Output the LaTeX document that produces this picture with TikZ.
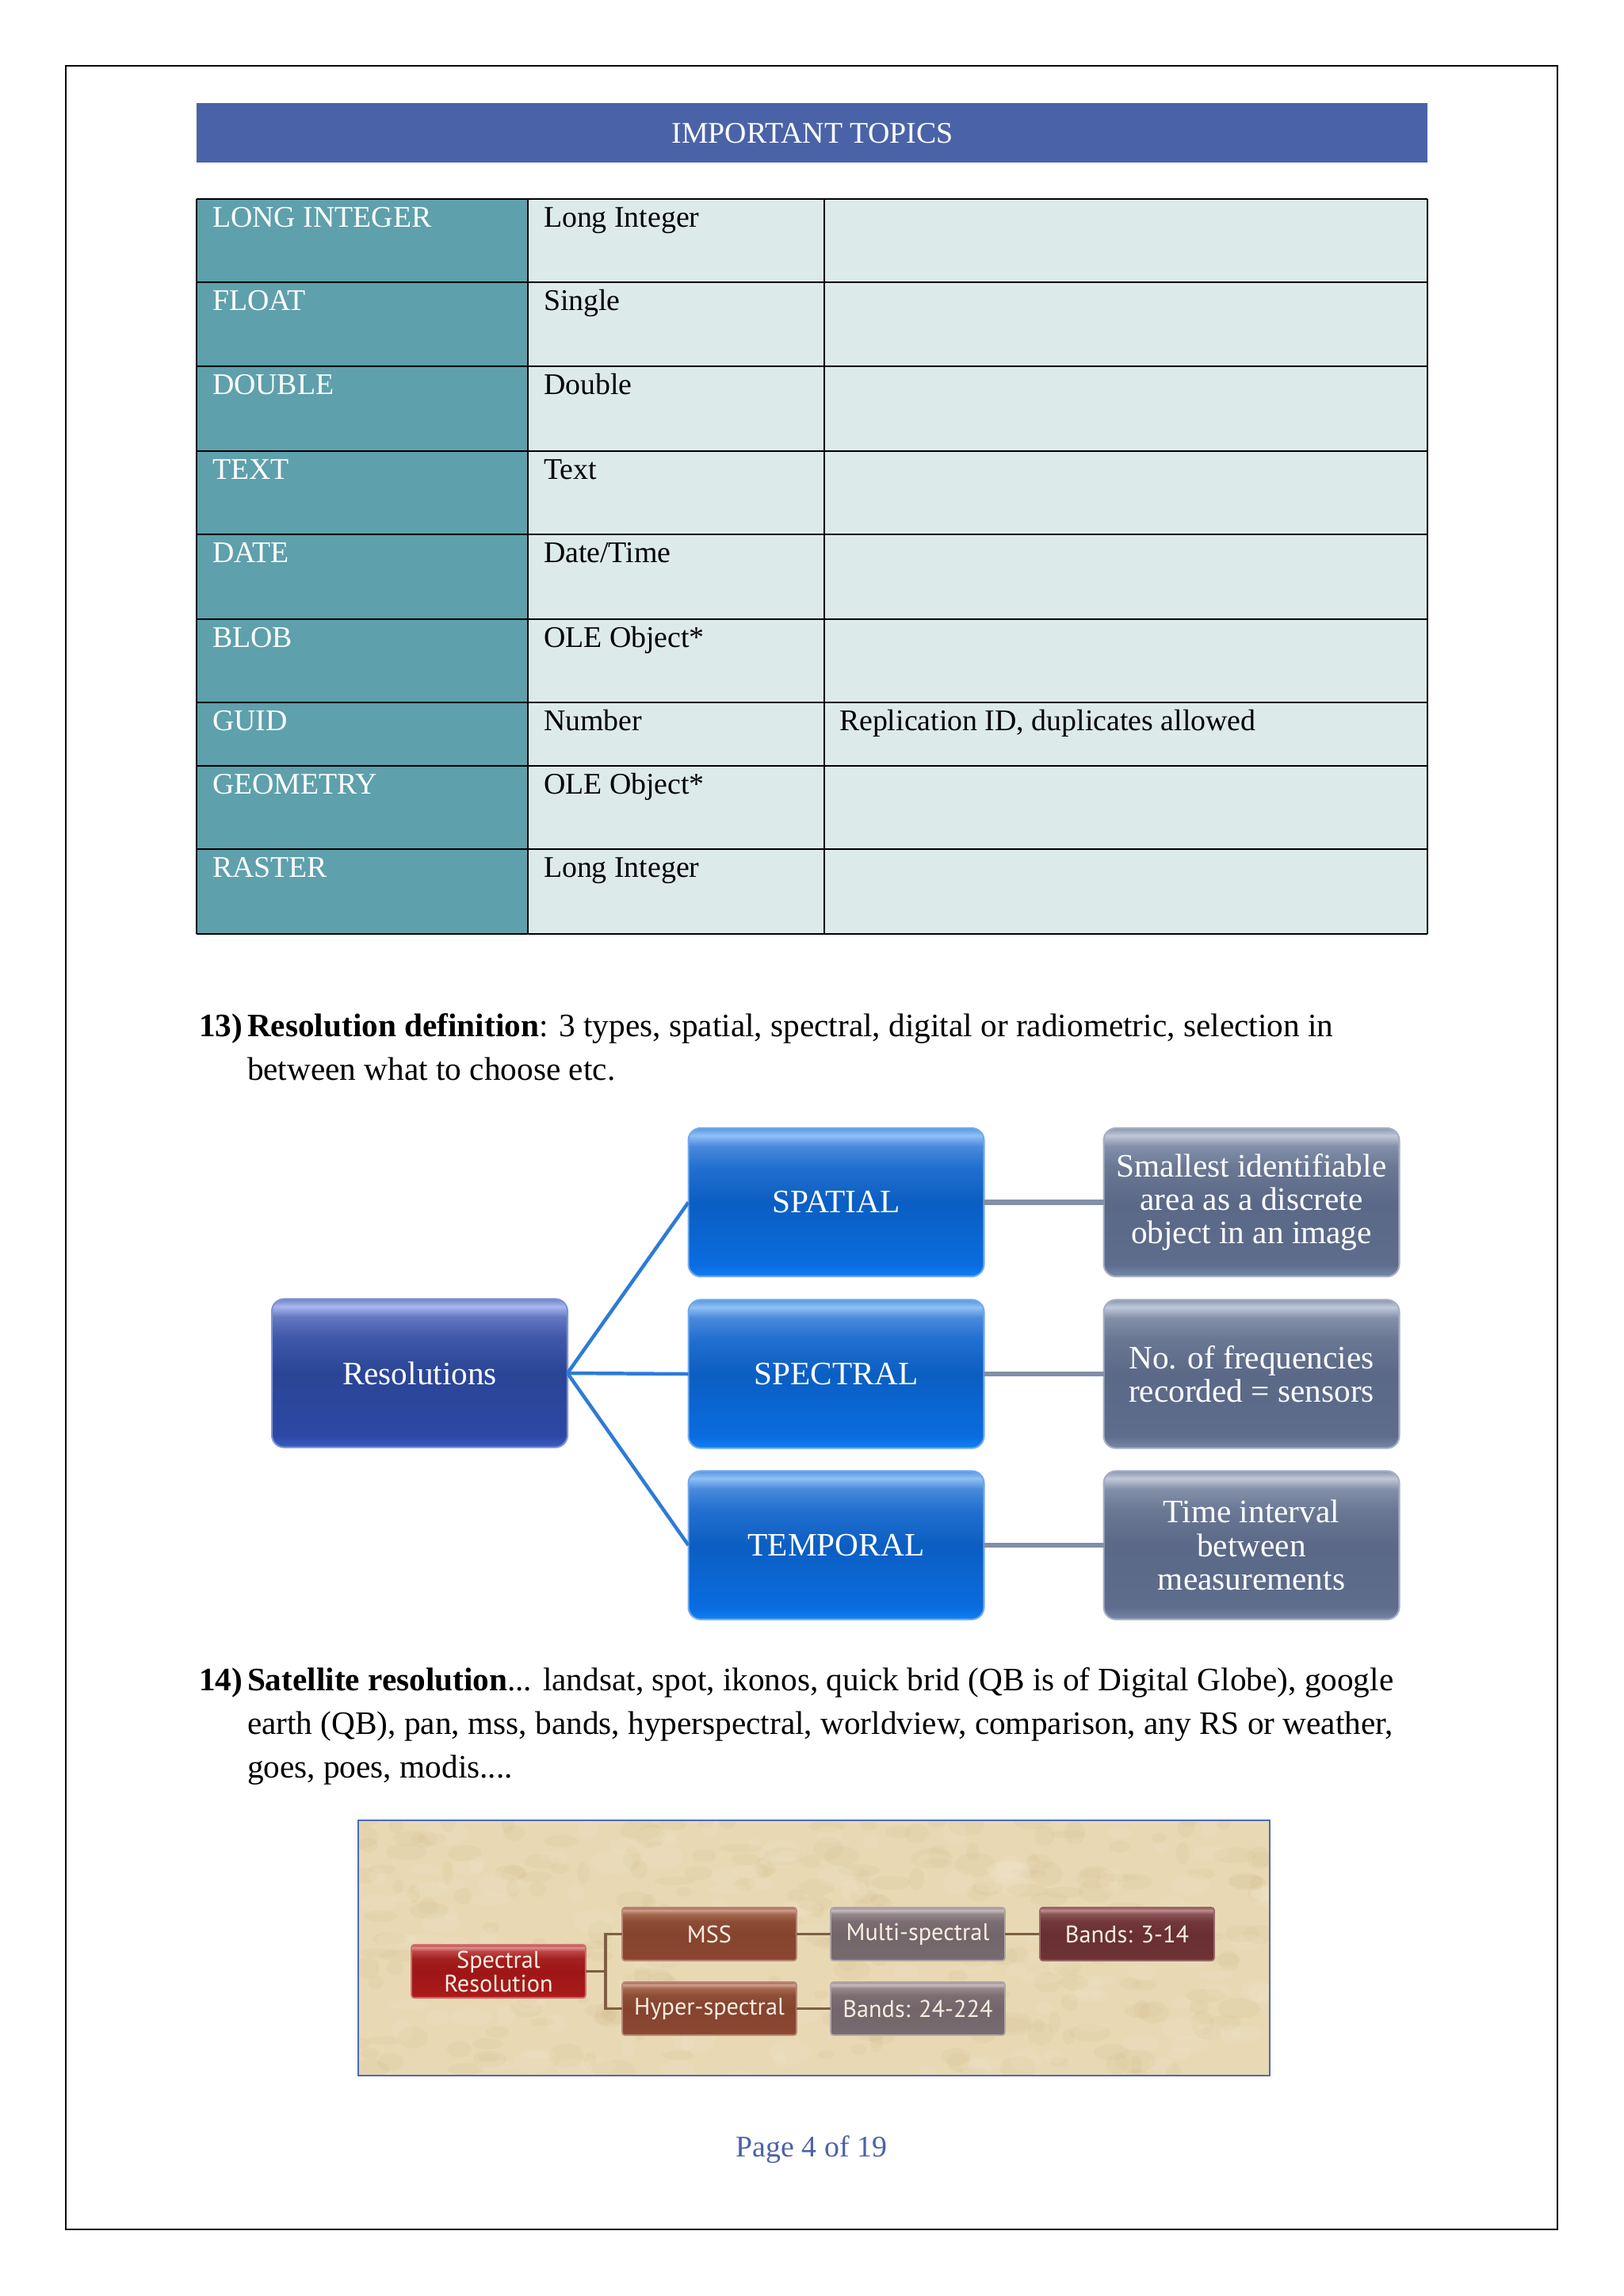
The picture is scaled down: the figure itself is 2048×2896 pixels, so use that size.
\documentclass[tikz,border=0pt]{standalone}
\usepackage{fontspec}
\setmainfont{Liberation Serif}
\newfontfamily\candfont{PT Sans}
\usetikzlibrary{calc}
\definecolor{hdrblue}{HTML}{4A63A8}
\definecolor{tealcell}{HTML}{5EA0AC}
\definecolor{lightcell}{HTML}{DDEAEA}
\definecolor{blueline}{HTML}{2E7BD6}
\definecolor{grayline}{HTML}{8090A8}
\definecolor{parch}{HTML}{E8D9B4}
\definecolor{parchdark}{HTML}{CDB583}
\definecolor{parchlight}{HTML}{F3E9D0}
\definecolor{frameblue}{HTML}{4A6BB5}
\definecolor{brline}{HTML}{7E5F43}
\definecolor{cream}{HTML}{F7EEE2}
% shading colour stops: a=bottom, b=near bottom, c=middle, d=upper, e=below top, f=top band, g=top edge
\newcommand{\mkshade}[8]{%
  \definecolor{#1a}{HTML}{#2}\definecolor{#1b}{HTML}{#3}\definecolor{#1c}{HTML}{#4}%
  \definecolor{#1d}{HTML}{#5}\definecolor{#1e}{HTML}{#6}\definecolor{#1f}{HTML}{#7}\definecolor{#1g}{HTML}{#8}%
  \pgfdeclareverticalshading{#1}{100bp}{color(0bp)=(#1a); color(25bp)=(#1a); color(29bp)=(#1b);
    color(50bp)=(#1c); color(62bp)=(#1d); color(69bp)=(#1e); color(72.5bp)=(#1f); color(75bp)=(#1g); color(100bp)=(#1g)}}
\mkshade{navysh}{3C5EC2}{2C48A4}{2B4596}{3F58A8}{6578C2}{A8B8EE}{6E82C8}
\mkshade{bluesh}{1080F5}{0A6CE0}{0B5EC2}{2270D0}{4A8ADC}{90C0F5}{5A98E0}
\mkshade{graysh}{7888A6}{5E6D8D}{5B6887}{6A7894}{8490AA}{C0C8D8}{8C98B0}
\mkshade{redsh}{B82222}{A81A1A}{9E1616}{A42020}{BE4646}{E09090}{B84040}
\mkshade{brownsh}{904B33}{8A4630}{86432E}{8C4C36}{A6684F}{D0A090}{A06050}
\mkshade{mauvesh}{7E7074}{776A6E}{73656A}{7B6D72}{96878A}{C8BCBE}{9A8C8F}
\mkshade{maroonsh}{723739}{6C3235}{692F33}{72383B}{8C5356}{C09090}{8A5050}
\begin{document}
\begin{tikzpicture}[x=0.29066pt,y=-0.29066pt,
  every node/.style={inner sep=0pt,outer sep=0pt},
  bodytext/.style={anchor=base west,font=\fontsize{12}{13.8}\selectfont},
  celltxt/.style={anchor=base west,font=\fontsize{11}{12.6}\selectfont},
  bigbox/.style={rounded corners=4.5pt,minimum width=108.4pt,minimum height=54.4pt,
      text=white,align=center,line width=0.6pt,font=\fontsize{12}{12.3}\selectfont},
  navybox/.style={bigbox,shading=navysh,draw=navyedge},
  bluebox/.style={bigbox,shading=bluesh,draw=blueedge},
  graybox/.style={bigbox,shading=graysh,draw=grayedge},
  bline/.style={draw=blueline,line width=1.3pt},
  gline/.style={draw=grayline,line width=1.8pt},
  smallbox/.style={rounded corners=1pt,minimum width=63.9pt,minimum height=19.5pt,
      text=cream,align=center,line width=0.5pt,font=\candfont\fontsize{8.8}{8.7}\selectfont},
  redbox/.style={smallbox,shading=redsh,draw=rededge},
  brownbox/.style={smallbox,shading=brownsh,draw=brownedge},
  mauvebox/.style={smallbox,shading=mauvesh,draw=mauveedge},
  maroonbox/.style={smallbox,shading=maroonsh,draw=marooneedge},
  brconn/.style={draw=brline,line width=0.9pt}
]
\definecolor{navyedge}{HTML}{7F92D2}
\definecolor{blueedge}{HTML}{6FA8EE}
\definecolor{grayedge}{HTML}{A4AEC4}
\definecolor{rededge}{HTML}{D07070}
\definecolor{brownedge}{HTML}{B88878}
\definecolor{mauveedge}{HTML}{B0A6A8}
\definecolor{marooneedge}{HTML}{986868}

% page
\fill[white] (0,0) rectangle (2048,2896);
\useasboundingbox (0,0) rectangle (2048,2896);
\draw[line width=0.7pt] (83,83) rectangle (1965,2812);

% header
\fill[hdrblue] (248,130) rectangle (1801,205);
\node[text=white,font=\fontsize{11}{12.6}\selectfont] (hdr) at (1025,168) {IMPORTANT TOPICS};

% table
\fill[tealcell] (248,251) rectangle (666,1178);
\fill[lightcell] (666,251) rectangle (1801,1178);
\foreach \yy in {251,356,462,569,674,781,886,966,1071,1178}
  \draw[line width=0.65pt] (248,\yy) -- (1801,\yy);
\foreach \xx in {248,666,1040,1801}
  \draw[line width=0.65pt] (\xx,251) -- (\xx,1178);

\node[celltxt,text=white] (a1) at (268,286) {LONG INTEGER};
\node[celltxt] (b1) at (686,286) {Long Integer};
\node[celltxt,text=white] (a2) at (268,391) {FLOAT};
\node[celltxt] (b2) at (686,391) {Single};
\node[celltxt,text=white] (a3) at (268,497) {DOUBLE};
\node[celltxt] (b3) at (686,497) {Double};
\node[celltxt,text=white] (a4) at (268,604) {TEXT};
\node[celltxt] (b4) at (686,604) {Text};
\node[celltxt,text=white] (a5) at (268,709) {DATE};
\node[celltxt] (b5) at (686,709) {Date/Time};
\node[celltxt,text=white] (a6) at (268,816) {BLOB};
\node[celltxt] (b6) at (686,816) {OLE Object*};
\node[celltxt,text=white] (a7) at (268,921) {GUID};
\node[celltxt] (b7) at (686,921) {Number};
\node[celltxt] (c7) at (1059,921) {Replication ID, duplicates allowed};
\node[celltxt,text=white] (a8) at (268,1001) {GEOMETRY};
\node[celltxt] (b8) at (686,1001) {OLE Object*};
\node[celltxt,text=white] (a9) at (268,1106) {RASTER};
\node[celltxt] (b9) at (686,1106) {Long Integer};

% paragraph 13
\node[bodytext] (n13) at (251,1307) {\textbf{13)}};
\node[bodytext] (p13a) at (312,1307) {\textbf{Resolution definition}: 3 types, spatial, spectral, digital or radiometric, selection in};
\node[bodytext] (p13b) at (312,1362) {between what to choose etc.};

% resolutions diagram
\node[navybox] (res) at (529.5,1732) {Resolutions};
\node[bluebox] (spatial) at (1055,1516.5) {SPATIAL};
\node[bluebox] (spectral) at (1055,1733) {SPECTRAL};
\node[bluebox] (temporal) at (1055,1949) {TEMPORAL};
\node[graybox] (dspatial) at (1579,1516.5) {Smallest identifiable\\area as a discrete\\object in an image};
\node[graybox] (dspectral) at (1579,1733) {No. of frequencies\\recorded = sensors};
\node[graybox] (dtemporal) at (1579,1949) {Time interval\\between\\measurements};
\draw[bline] (res.east) -- (spatial.west);
\draw[bline] (res.east) -- (spectral.west);
\draw[bline] (res.east) -- (temporal.west);
\draw[gline] (spatial.east) -- (dspatial.west);
\draw[gline] (spectral.east) -- (dspectral.west);
\draw[gline] (temporal.east) -- (dtemporal.west);

% paragraph 14
\node[bodytext] (n14) at (251,2132) {\textbf{14)}};
\node[bodytext] (p14a) at (312,2132) {\textbf{Satellite resolution}... landsat, spot, ikonos, quick brid (QB is of Digital Globe), google};
\node[bodytext] (p14b) at (312,2187) {earth (QB), pan, mss, bands, hyperspectral, worldview, comparison, any RS or weather,};
\node[bodytext] (p14c) at (312,2242) {goes, poes, modis....};

% spectral resolution picture
\fill[parch] (452,2296) rectangle (1602,2618);
\begin{scope}
\clip (452,2296) rectangle (1602,2618);
\pgfmathsetseed{11}
\foreach \i in {1,...,260}{
  \pgfmathsetmacro{\px}{452+1150*rnd}
  \pgfmathsetmacro{\py}{2296+322*rnd}
  \pgfmathsetmacro{\rx}{2+6*rnd}
  \pgfmathsetmacro{\ry}{1.5+3*rnd}
  \fill[parchdark,opacity=0.13] (\px,\py) ellipse [x radius=\rx pt,y radius=\ry pt];
}
\foreach \i in {1,...,160}{
  \pgfmathsetmacro{\px}{452+1150*rnd}
  \pgfmathsetmacro{\py}{2296+322*rnd}
  \pgfmathsetmacro{\rx}{2+6*rnd}
  \pgfmathsetmacro{\ry}{1.5+3*rnd}
  \fill[parchlight,opacity=0.18] (\px,\py) ellipse [x radius=\rx pt,y radius=\ry pt];
}
\end{scope}
\draw[frameblue,line width=0.7pt] (452,2296) rectangle (1602,2618);

\node[redbox] (sr) at (629,2486.5) {Spectral\\Resolution};
\node[brownbox] (mss) at (895,2439.5) {MSS};
\node[brownbox] (hyp) at (895,2533.5) {Hyper-spectral};
\node[mauvebox] (multi) at (1158,2439.5) {Multi-spectral};
\node[mauvebox] (b24) at (1158,2533.5) {Bands: 24-224};
\node[maroonbox] (b314) at (1422,2439.5) {Bands: 3-14};
\coordinate (jn) at (764,2486.5);
\draw[brconn] (sr.east) -- (jn) |- (mss.west);
\draw[brconn] (jn) |- (hyp.west);
\draw[brconn] (mss.east) -- (multi.west);
\draw[brconn] (multi.east) -- (b314.west);
\draw[brconn] (hyp.east) -- (b24.west);

% page number
\node[anchor=base,text=hdrblue,font=\fontsize{11}{12.6}\selectfont] (pg) at (1024,2720) {Page 4 of 19};
\end{tikzpicture}
\end{document}
